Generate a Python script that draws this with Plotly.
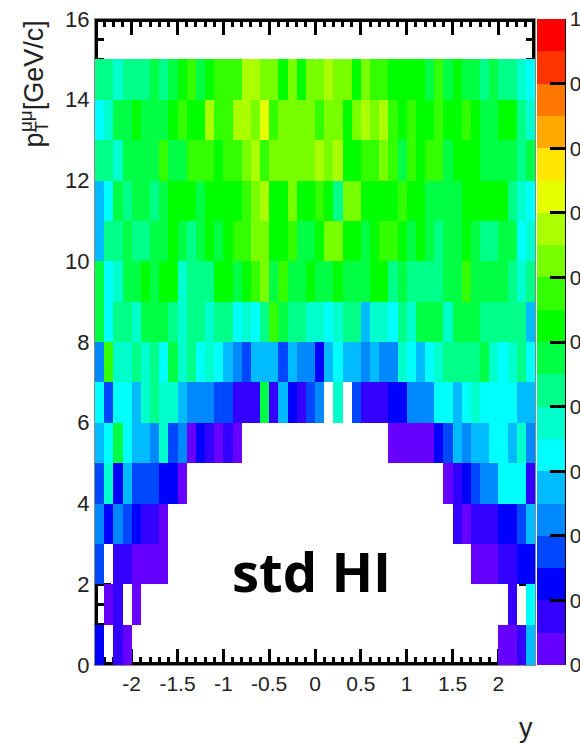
import plotly.graph_objects as go

# Bin edges
y_edges = [round(-2.4 + 0.1 * i, 1) for i in range(49)]
pt_edges = list(range(17))

N = None
# Colour band (0..19) of every cell, one list per pT bin
pt00 = [2,N,1,0] + [N]*40 + [0,0,1,5]
pt01 = [N,0,1,N,0] + [N]*40 + [1,N,6]
pt02 = [3,N,1,1,0,0,0,0] + [N]*33 + [0,0,0,1,1,2,2]
pt03 = [4,2,4,3,2,1,1,0] + [N]*31 + [1,0,1,1,1,2,2,3,5]
pt04 = [3,7,2,5,3,3,3,2,2,0] + [N]*28 + [0,1,2,3,4,4,6,6,6,1]
pt05 = [5,6,9,6,5,5,4,7,3,4,0,2,1,0,1,0] + [N]*16 + [0,0,0,0,0,2,3,5,4,5,5,6,6,5,7,4]
pt06 = [6,3,6,6,5,7,8,7,7,5,4,4,4,3,3,1,1,1,9,1,5,2,1,3,4,N,7,N,3,1,1,1,2,2,4,4,4,6,6,5,6,7,6,6,6,6,5,5]
pt07 = [4,11,7,7,8,7,8,6,9,7,8,6,7,6,5,4,3,5,5,5,3,5,4,4,2,5,6,5,5,4,5,4,4,7,6,5,6,7,8,8,8,8,9,7,6,7,8,6]
pt08 = [9,6,8,8,7,9,9,9,8,7,8,8,7,8,8,6,7,6,8,11,9,8,8,7,7,6,7,8,8,5,7,7,6,8,7,9,9,9,7,9,9,9,8,8,8,8,8,5]
pt09 = [9,6,7,9,9,10,9,10,10,7,8,8,8,10,10,9,10,11,12,9,11,9,9,10,9,9,10,9,9,9,10,10,8,9,8,8,8,8,9,9,11,9,9,9,9,8,7,8]
pt10 = [5,8,8,9,8,8,9,9,10,9,8,9,10,9,10,11,11,12,12,10,10,11,9,9,10,12,12,10,10,9,10,11,11,10,9,10,9,8,9,9,10,9,8,8,9,9,6,7]
pt11 = [5,6,9,8,9,9,8,9,10,10,10,9,10,10,10,10,11,12,13,10,10,12,10,10,11,10,8,12,12,10,10,10,10,11,10,10,9,9,9,9,10,10,10,10,10,8,7,6]
pt12 = [8,8,7,9,9,9,9,11,9,9,11,11,11,10,11,11,12,13,11,12,12,12,12,12,13,12,13,10,10,11,11,12,11,9,11,10,11,11,9,10,10,10,9,9,9,9,8,9]
pt13 = [6,7,9,9,10,9,9,9,10,11,10,10,13,11,11,13,13,12,14,11,12,12,12,12,11,12,12,10,12,13,12,13,11,10,11,10,10,11,10,10,11,10,9,9,10,10,8,7]
pt14 = [8,8,7,8,8,8,9,8,9,10,11,9,10,11,11,11,13,13,12,12,10,12,10,12,12,13,12,12,10,12,11,11,10,10,10,10,9,11,9,10,9,9,8,9,8,8,7,6]
pt15 = [N]*48

band_rows = [pt00, pt01, pt02, pt03, pt04, pt05, pt06, pt07, pt08, pt09,
             pt10, pt11, pt12, pt13, pt14, pt15]

band_colors = ["#6600ff", "#3300ff", "#0000ff", "#0048ff", "#0088ff", "#00bbff",
               "#00ffff", "#00ffcc", "#00ff88", "#00ff44", "#00ff00", "#33ff00",
               "#77ff00", "#aaff00", "#e6ff00", "#ffe600", "#ffa800", "#ff7700",
               "#ff3300", "#ff0000"]

cbar_ticks = [0, 0.1, 0.2, 0.3, 0.4, 0.5, 0.6, 0.7, 0.8, 0.9, 1]
cbar_text = ["0", "0", "0", "0", "0", "0", "0", "0", "0", "0", "1"]
x_ticks = [-2, -1.5, -1, -0.5, 0, 0.5, 1, 1.5, 2]
x_text = ["-2", "-1.5", "-1", "-0.5", "0", "0.5", "1", "1.5", "2"]
y_ticks = [0, 2, 4, 6, 8, 10, 12, 14, 16]

n = len(band_colors)
scale = []
for i, c in enumerate(band_colors):
    scale += [[i / n, c], [(i + 1) / n, c]]

z = [[None if b is None else (b + 0.5) / n for b in row] for row in band_rows]

W, H = 580, 743
L, R, T, B = 95, 535.5, 19, 665.5


def px(x):
    return (x - L) / (R - L)


def py(y):
    return (B - y) / (B - T)


fig = go.Figure(go.Heatmap(
    x=y_edges, y=pt_edges, z=z, zmin=0, zmax=1, colorscale=scale, hoverongaps=False,
    colorbar=dict(
        thicknessmode="pixels", thickness=28, lenmode="fraction", len=1,
        x=537 / W, xref="container", xanchor="left", y=0.5, yanchor="middle",
        tickmode="array", tickvals=cbar_ticks, ticktext=cbar_text,
        ticks="inside", ticklen=15, tickwidth=3, tickcolor="black",
        outlinewidth=0, borderwidth=0, xpad=0, ypad=0,
        tickfont=dict(family="Liberation Sans", size=21, color="#222"),
    ),
))

dx, dy = 1.5 / (R - L), 1.5 / (B - T)
fig.add_shape(type="rect", xref="x domain", yref="y domain", x0=dx, x1=1 - dx, y0=dy, y1=1 - dy,
              line=dict(color="black", width=3), layer="below")
fig.add_shape(type="line", xref="paper", yref="paper", x0=px(565), x1=px(565), y0=0, y1=1,
              line=dict(color="black", width=3), layer="above")

fig.update_layout(
    width=W, height=H, margin=dict(l=L, r=W - R, t=T, b=H - B, autoexpand=False),
    paper_bgcolor="white", plot_bgcolor="white", showlegend=False,
    font=dict(family="Liberation Sans", color="#222"),
    xaxis=dict(range=[-2.4, 2.4], tickmode="array", tickvals=x_ticks, ticktext=x_text,
               ticks="inside", ticklen=16, tickwidth=2.5, tickcolor="black", mirror="ticks",
               showline=True, linecolor="#888", linewidth=1, showgrid=False, zeroline=False,
               layer="below traces", tickfont=dict(size=21), ticklabeloverflow="allow",
               minor=dict(ticks="inside", ticklen=8, tickwidth=2.5, tickcolor="black", dtick=0.1, tick0=0, showgrid=False)),
    yaxis=dict(range=[0, 16], tickmode="array", tickvals=y_ticks,
               ticks="inside", ticklen=16, tickwidth=2.5, tickcolor="black", mirror="ticks",
               showline=True, linecolor="#888", linewidth=1, showgrid=False, zeroline=False,
               layer="below traces", tickfont=dict(size=22), ticklabeloverflow="allow",
               minor=dict(ticks="inside", ticklen=9, tickwidth=2.5, tickcolor="black", dtick=0.5, tick0=0, showgrid=False)),
    annotations=[
        dict(text="<b>std HI</b>", x=px(312), y=py(571), xref="paper", yref="paper", showarrow=False,
             font=dict(family="Open Sans", size=54.5, color="black"), xanchor="center", yanchor="middle"),
        dict(text="y", x=px(526), y=py(729), xref="paper", yref="paper", showarrow=False,
             font=dict(family="Liberation Sans", size=27, color="#222"), xanchor="center", yanchor="middle"),
        dict(text="p<sub>T</sub>", x=px(36), y=py(150), xref="paper", yref="paper",
             showarrow=False, textangle=-90, font=dict(family="Liberation Sans", size=27, color="#222"),
             xanchor="center", yanchor="bottom"),
        dict(text="<sup>μμ</sup>[GeV/c]", x=px(32), y=py(18), xref="paper", yref="paper",
             showarrow=False, textangle=-90, font=dict(family="Liberation Sans", size=27, color="#222"),
             xanchor="center", yanchor="top"),
    ],
)
fig.write_html("out.html", config={"displayModeBar": False},
               post_script="document.body.style.margin='0';document.documentElement.style.overflow='hidden';")
